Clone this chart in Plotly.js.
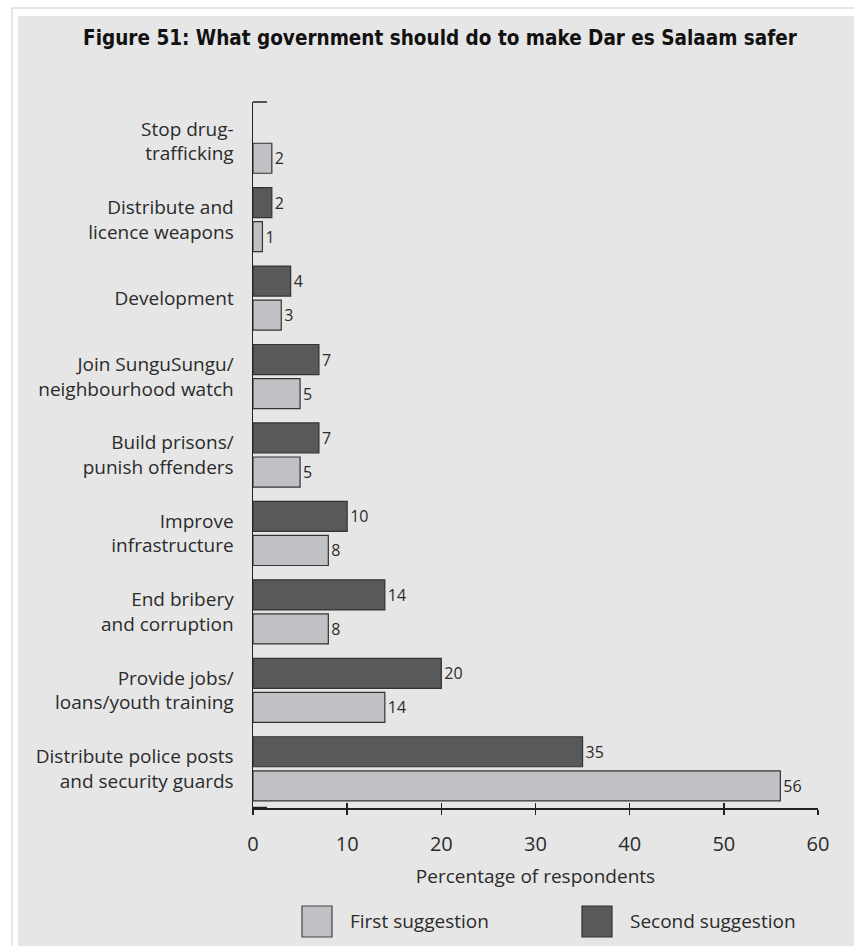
<!DOCTYPE html>
<html>
<head>
<meta charset="utf-8">
<script src="https://cdn.plot.ly/plotly-3.0.1.min.js"></script>
<style>html,body{margin:0;padding:0;background:#fff;}#chart{width:854px;height:946px;}</style>
</head>
<body>
<div id="chart"></div>
<script>
// ---- data ----
var categories = [
  "Distribute police posts<br>and security guards",
  "Provide jobs/<br>loans/youth training",
  "End bribery<br>and corruption",
  "Improve<br>infrastructure",
  "Build prisons/<br>punish offenders",
  "Join SunguSungu/<br>neighbourhood watch",
  "Development",
  "Distribute and<br>licence weapons",
  "Stop drug-<br>trafficking"
];
var firstSuggestion  = [56, 14, 8, 8, 5, 5, 3, 1, 2];
var secondSuggestion = [35, 20, 14, 10, 7, 7, 4, 2, null];
var seriesNames = ["First suggestion", "Second suggestion"];
var xTickValues = [0, 10, 20, 30, 40, 50, 60];
var titleText = "Figure 51: What government should do to make Dar es Salaam safer";
var xTitleText = "Percentage of respondents";

// ---- styling ----
var W = 854, H = 946;
var M = {l: 253, r: 36, t: 102, b: 138};
var PW = W - M.l - M.r, PH = H - M.t - M.b;
function px(x) { return (x - M.l) / PW; }
function py(y) { return (H - M.b - y) / PH; }

var lightCol = "#c0c1c4", darkCol = "#58595b", edgeCol = "#333333";
var txtCol = "#2b2b2b";
var fontFam = "'Open Sans', 'DejaVu Sans', sans-serif";

var traces = [
  {
    type: "bar", orientation: "h", name: seriesNames[0],
    y: categories, x: firstSuggestion,
    marker: {color: lightCol, line: {color: edgeCol, width: 1.2}},
    texttemplate: "%{x}", textposition: "outside", cliponaxis: false,
    constraintext: "none",
    textfont: {family: fontFam, size: 16, color: txtCol},
    showlegend: false, hoverinfo: "x+name"
  },
  {
    type: "bar", orientation: "h", name: seriesNames[1],
    y: categories, x: secondSuggestion,
    marker: {color: darkCol, line: {color: edgeCol, width: 1.2}},
    texttemplate: "%{x}", textposition: "outside", cliponaxis: false,
    constraintext: "none",
    textfont: {family: fontFam, size: 16, color: txtCol},
    showlegend: false, hoverinfo: "x+name"
  },
  {
    type: "scatter", mode: "markers", x: [0], y: [categories[0]],
    xaxis: "x2", marker: {opacity: 0}, hoverinfo: "skip", showlegend: false
  }
];

var shapes = [
  // grey panel
  {type: "rect", xref: "paper", yref: "paper", layer: "below",
   x0: px(18), x1: px(860), y0: py(952), y1: py(16),
   fillcolor: "#e6e6e6", line: {width: 0}},
  // faint outer frame
  {type: "rect", xref: "paper", yref: "paper", layer: "below",
   x0: px(12), x1: px(870), y0: py(960), y1: py(8),
   fillcolor: "rgba(0,0,0,0)", line: {color: "#dedede", width: 1.5}},
  // small end ticks on the y axis
  {type: "line", xref: "paper", yref: "paper",
   x0: px(253), x1: px(267), y0: 1, y1: 1, line: {color: "#222", width: 1.5}},
  {type: "line", xref: "paper", yref: "paper",
   x0: px(253), x1: px(267), y0: 0, y1: 0, line: {color: "#222", width: 2.5}},
  // legend boxes
  {type: "rect", xref: "paper", yref: "paper",
   x0: px(302), x1: px(332), y0: py(937), y1: py(906),
   fillcolor: lightCol, line: {color: "#444", width: 1.2}},
  {type: "rect", xref: "paper", yref: "paper",
   x0: px(582), x1: px(612), y0: py(937), y1: py(906),
   fillcolor: darkCol, line: {color: "#333", width: 1.2}}
];

var annotations = [
  {xref: "paper", yref: "paper", x: px(348), y: py(921), xanchor: "left", yanchor: "middle",
   text: seriesNames[0], showarrow: false,
   font: {family: fontFam, size: 19, color: txtCol}},
  {xref: "paper", yref: "paper", x: px(628), y: py(921), xanchor: "left", yanchor: "middle",
   text: seriesNames[1], showarrow: false,
   font: {family: fontFam, size: 19, color: txtCol}}
];

var layout = {
  width: W, height: H,
  margin: M,
  paper_bgcolor: "#ffffff",
  plot_bgcolor: "rgba(0,0,0,0)",
  barmode: "group",
  bargap: 0.132,
  bargroupgap: 0.118,
  title: {
    text: "<b>" + titleText + "</b>",
    x: px(440), xanchor: "center", xref: "paper",
    y: 1 - 38 / H, yanchor: "middle", yref: "container",
    font: {family: "'DejaVu Sans Condensed', 'Liberation Sans Narrow', 'Liberation Sans', sans-serif", size: 20.5, color: "#111"}
  },
  xaxis: {
    range: [0, 60], tickvals: xTickValues, ticktext: xTickValues.map(String),
    ticks: "outside", ticklen: 5, tickwidth: 1.5, tickcolor: "#222",
    showline: true, linecolor: "#222", linewidth: 1.5,
    showgrid: false, zeroline: false, fixedrange: true,
    ticklabelstandoff: 12,
    tickfont: {family: fontFam, size: 20, color: txtCol},
    title: {text: xTitleText, standoff: 14, font: {family: fontFam, size: 19, color: txtCol}}
  },
  xaxis2: {
    overlaying: "x", anchor: "y", side: "bottom",
    range: [0, 60], tickvals: xTickValues.slice(1),
    ticks: "inside", ticklen: 5, tickwidth: 1.5, tickcolor: "#222",
    showticklabels: false, showline: false, showgrid: false, zeroline: false
  },
  yaxis: {
    type: "category", categoryorder: "array", categoryarray: categories,
    ticks: "outside", ticklen: 14, tickcolor: "rgba(0,0,0,0)",
    showline: true, linecolor: "#222", linewidth: 1.5,
    showgrid: false, zeroline: false, fixedrange: true,
    tickfont: {family: fontFam, size: 19, color: txtCol}
  },
  shapes: shapes,
  annotations: annotations,
  showlegend: false
};

Plotly.newPlot("chart", traces, layout, {displayModeBar: false, staticPlot: true});
</script>
</body>
</html>
